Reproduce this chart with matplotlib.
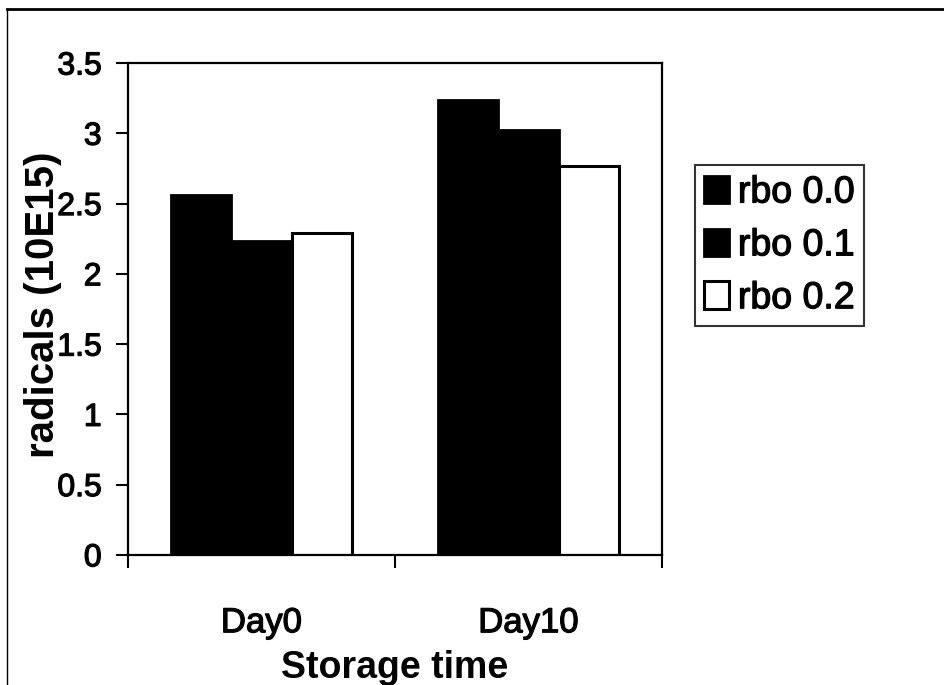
import matplotlib
matplotlib.use("Agg")
import matplotlib.pyplot as plt
import matplotlib.patheffects as pe
import numpy as np
from matplotlib.lines import Line2D

plt.rcParams["font.family"] = ["Liberation Sans", "DejaVu Sans"]

days = ["Day0", "Day10"]
series = ["rbo 0.0", "rbo 0.1", "rbo 0.2"]
rbo_00 = [2.56, 3.24]
rbo_01 = [2.23, 3.02]
rbo_02 = [2.29, 2.77]
y_ticks = [0, 0.5, 1, 1.5, 2, 2.5, 3, 3.5]

# scanned print looks heavy, thicken text a little
heavy = [pe.withStroke(linewidth=0.9, foreground="black")]

fig = plt.figure(figsize=(9.44, 6.85), dpi=100)
ax = fig.add_axes([0.1356, 0.190, 0.5657, 0.718])

x = np.arange(len(days))
w = 0.225
ax.bar(x - w, rbo_00, w, color="black", edgecolor="black", linewidth=2, label=series[0])
ax.bar(x, rbo_01, w, color="black", edgecolor="black", linewidth=2, label=series[1])
ax.bar(x + w, rbo_02, w, color="white", edgecolor="black", linewidth=2.2, label=series[2])

ax.set_xlim(-0.5, 1.5)
ax.set_ylim(0, 3.5)
ax.set_yticks(y_ticks)
ax.set_yticklabels([f"{v:g}" for v in y_ticks])
ax.set_xticks(x)
ax.set_xticklabels(days)
ax.set_xticks([-0.5, 0.5, 1.5], minor=True)

ax.tick_params(axis="y", direction="out", length=9, width=1.5, pad=10, labelsize=23)
ax.tick_params(axis="x", which="major", length=0, pad=37, labelsize=25)
ax.tick_params(axis="x", which="minor", direction="out", length=9, width=1.5)
for s in ax.spines.values():
    s.set_linewidth(1.6)
for t in ax.get_xticklabels() + ax.get_yticklabels():
    t.set_path_effects(heavy)

ax.set_xlabel("Storage time", fontsize=27, fontweight="bold")
ax.xaxis.set_label_coords(0.5, -0.193)
ax.set_ylabel("radicals (10E15)", fontsize=29, fontweight="bold", va="center")
ax.yaxis.set_label_coords(-0.159, 0.508)

leg = ax.legend(loc="upper left", bbox_to_anchor=(0.736, 0.759),
                bbox_transform=fig.transFigure, fontsize=27, frameon=True,
                fancybox=False, borderpad=0.25, labelspacing=0.45,
                handlelength=0.65, handleheight=0.75, handletextpad=0.25,
                borderaxespad=0)
leg.get_frame().set_edgecolor("black")
leg.get_frame().set_linewidth(1.5)
for t in leg.get_texts():
    t.set_path_effects(heavy)

# chart-area border (only top and left survive in the scan)
fig.add_artist(Line2D([7 / 944, 1], [1 - 9 / 685, 1 - 9 / 685], color="black", lw=2))
fig.add_artist(Line2D([7 / 944, 7 / 944], [0, 1 - 9 / 685], color="black", lw=1))

fig.savefig("out.png", dpi=100, facecolor="white")
